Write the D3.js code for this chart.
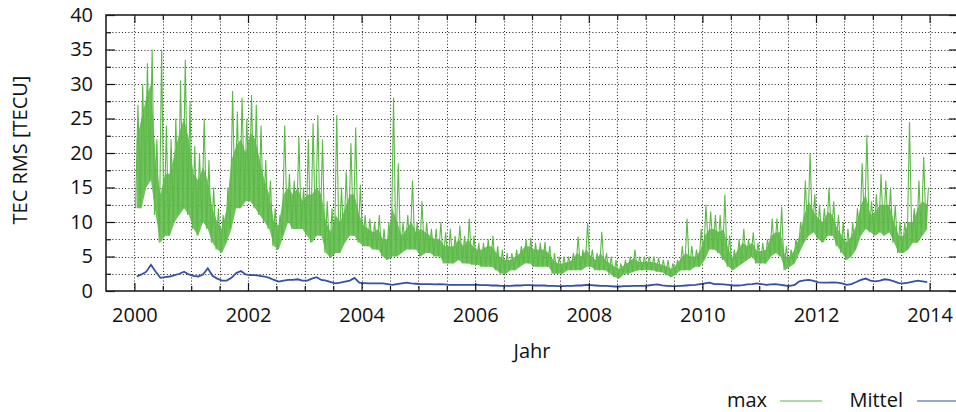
<!DOCTYPE html>
<html>
<head>
<meta charset="utf-8">
<script src="https://cdn.jsdelivr.net/npm/d3@7"></script>
<style>
	body {margin: 0; background: #fff;}
	svg {display: block;}
	text {font-family: 'Open Sans', sans-serif; fill: #111;}
</style>
</head>
<body>
<div id="chart"></div>
<script>
// monthly low / dense-band top / peak of the daily "max" TEC RMS, Jan 2000 .. Dec 2013
var maxLow = [
	12, 12, 15, 16, 11, 7, 8, 8, 10, 11, 12, 11,
	9, 8, 10, 9, 7, 6, 5.5, 7, 9, 12, 12, 13,
	13, 12, 11, 10, 9, 6.5, 6, 8, 10, 9, 9, 9,
	8, 7, 8, 8, 5.5, 4.8, 5.5, 5.5, 7, 8, 8, 7,
	6.5, 6.5, 6, 6, 5, 4.5, 5, 5, 5.5, 6, 6, 6,
	5, 5.5, 5.5, 5, 5, 4, 4, 4, 4.5, 4, 4, 3.8,
	3.8, 3.5, 3.5, 3.5, 3, 2.5, 2.5, 3, 3, 3.5, 4, 4,
	3.5, 3.5, 3.5, 3.5, 2.5, 2.5, 2.5, 3, 3, 3, 3, 3.5,
	3.5, 3, 3, 3, 2.5, 2, 1.8, 2.5, 2.5, 2.8, 3, 3,
	3, 3, 2.8, 2.7, 2.3, 2, 2.5, 3, 3, 3, 3.5, 3.5,
	4.5, 6, 6, 5.5, 4.5, 3.5, 3, 3.5, 4, 4.5, 5, 4,
	4, 4, 5, 5.5, 5, 3, 3.5, 4, 5.5, 7, 8, 8.5,
	7.5, 7, 8, 8, 6.5, 5.5, 4.5, 5, 6, 8, 9, 8.5,
	8, 8.5, 8, 8.5, 7, 5.5, 5.5, 6, 7, 7, 8, 9
];
var maxCore = [
	22, 25, 28, 30, 19, 14, 17, 17, 20, 23, 25, 22,
	17, 16, 18, 16, 12, 10, 9, 12, 19, 21, 22, 20,
	23, 22, 19, 16, 14, 10, 9.5, 14, 15, 14, 15, 13,
	14, 14, 15, 14, 10, 8.5, 11, 10, 12, 14, 14, 11,
	9.5, 9, 8.5, 9, 7.5, 7.5, 12, 10, 8, 9, 10, 8.5,
	9, 8.5, 8, 7.5, 7.5, 6.5, 6.5, 6.5, 7.5, 6.5, 7.5, 6.5,
	6, 6, 6.5, 6.5, 5.5, 4.8, 4.5, 4.5, 5, 5.5, 6.5, 6.5,
	6, 6, 6, 5.5, 4.5, 4, 4, 4.2, 4.5, 5.5, 5, 6,
	5, 4.5, 5.5, 4.5, 4, 3.5, 3.2, 3.8, 4.2, 4.8, 4.2, 4.2,
	4.2, 4.2, 4, 3.8, 3.6, 3.2, 3.8, 4.8, 5.5, 5, 5, 5.8,
	8, 9, 9, 8.5, 9, 6, 4.8, 6, 7, 6.5, 7, 5.8,
	5.8, 6, 8, 8.5, 8.5, 5, 5, 6, 8, 11, 13, 11.5,
	10.5, 10, 11.5, 11, 9, 8, 7, 8, 9.5, 12.5, 14, 11,
	11.5, 12.5, 12.5, 12.5, 10, 8, 8, 10, 10, 12, 13, 12.5
];
var maxHigh = [
	27, 30, 33, 35, 22, 35, 24, 22, 25, 30.5, 33.5, 27.5,
	21, 20, 25, 19, 15, 12, 11, 15, 29, 26, 28, 25,
	28.4, 27, 24, 19, 16, 12, 11, 24, 17, 16, 22.4, 15,
	22, 24.3, 25.5, 22, 13, 12, 25.5, 15, 17.3, 21.4, 23.7, 15.4,
	11, 10.5, 10, 11, 9, 10, 28, 18.5, 10, 11, 16, 10,
	13, 10, 9, 9, 10, 8.5, 9, 8, 9.5, 8, 10.5, 8,
	7, 7, 7.5, 8, 6.5, 6, 5.5, 5.5, 6, 6.5, 7.5, 7.7,
	7, 7, 7.1, 6.5, 5.5, 5, 5, 5, 5.5, 7.9, 6, 9.9,
	6, 5.5, 8.6, 5.5, 5, 4.5, 4, 4.5, 5, 6, 5, 5,
	5, 5, 4.8, 4.5, 4.5, 4, 4.5, 6.5, 10.5, 6.5, 6, 9,
	12.5, 11.5, 11, 11, 14, 8, 6, 7.5, 9, 7.5, 8.5, 7,
	7, 7.5, 10.5, 10.5, 12.2, 6.5, 6, 7.5, 10, 16, 20, 14,
	12.5, 12, 15, 13, 11, 10, 9, 10, 12, 18.5, 22.6, 13,
	14, 17, 16, 15, 12.5, 10, 10, 24.5, 12, 16, 19.4, 15
];
// monthly level of "Mittel"
var mittel = [
	2.1, 2.4, 2.8, 3.8, 2.8, 1.9, 2.0, 2.1, 2.3, 2.5, 2.8, 2.4,
	2.2, 2.1, 2.4, 3.3, 2.2, 1.8, 1.5, 1.5, 1.9, 2.6, 2.9, 2.4,
	2.3, 2.3, 2.2, 2.1, 1.9, 1.6, 1.35, 1.5, 1.6, 1.6, 1.7, 1.5,
	1.5, 1.8, 2.0, 1.6, 1.5, 1.3, 1.1, 1.2, 1.35, 1.5, 1.9, 1.2,
	1.15, 1.1, 1.1, 1.1, 1.1, 1.0, 0.9, 1.0, 1.1, 1.2, 1.1, 1.05,
	1.0, 1.0, 1.0, 0.95, 1.0, 0.95, 0.9, 0.9, 0.9, 0.9, 0.9, 0.9,
	0.9, 0.85, 0.85, 0.8, 0.8, 0.75, 0.75, 0.75, 0.8, 0.8, 0.85, 0.85,
	0.8, 0.8, 0.8, 0.75, 0.75, 0.7, 0.7, 0.75, 0.75, 0.8, 0.8, 0.9,
	0.85, 0.8, 0.75, 0.75, 0.7, 0.65, 0.65, 0.7, 0.7, 0.75, 0.75, 0.75,
	0.8, 0.9, 0.95, 0.8, 0.75, 0.7, 0.7, 0.75, 0.8, 0.85, 0.9, 1.0,
	1.1, 1.2, 1.0, 1.0, 0.95, 0.9, 0.8, 0.8, 0.85, 0.95, 1.0, 1.1,
	1.0, 0.9, 0.95, 1.0, 0.9, 0.8, 0.75, 0.9, 1.4, 1.55, 1.6, 1.45,
	1.25, 1.2, 1.2, 1.25, 1.2, 1.1, 0.9, 1.0, 1.3, 1.6, 1.8, 1.5,
	1.4, 1.5, 1.7, 1.6, 1.4, 1.15, 1.1, 1.2, 1.35, 1.5, 1.4, 1.3
];
var startYear = 2000;
var xTickYears = [2000, 2002, 2004, 2006, 2008, 2010, 2012, 2014];
var xMinorYears = [2000, 2000.5, 2001, 2001.5, 2002, 2002.5, 2003, 2003.5, 2004, 2004.5, 2005, 2005.5, 2006, 2006.5, 2007, 2007.5,
	2008, 2008.5, 2009, 2009.5, 2010, 2010.5, 2011, 2011.5, 2012, 2012.5, 2013, 2013.5, 2014];
var yTickValues = [0, 5, 10, 15, 20, 25, 30, 35, 40];
var yMinorValues = [2.5, 7.5, 12.5, 17.5, 22.5, 27.5, 32.5, 37.5];
var seriesNames = ['max', 'Mittel'];
var seriesColors = ['#5cb947', '#3551a3'];

function TecPlot(id, conf) {
	this.id = id;
	this.config = conf;

	this.init()
		.drawGrid()
		.drawSeries()
		.drawAxes()
		.drawLabels();
}

TecPlot.prototype = {
	init: function () {
		var conf = this.config;

		this.svg = d3.select('#'+this.id).append('svg')
			.attr('width', conf.width).attr('height', conf.height);

		this.x_scale = d3.scaleLinear().domain([1999.5, 2014.5]).range([conf.left, conf.right]);
		this.y_scale = d3.scaleLinear().domain([0, 40]).range([conf.bottom, conf.top]);

		this.svg.append('clipPath').attr('id', 'plotclip').append('rect')
			.attr('x', conf.left).attr('y', conf.top)
			.attr('width', conf.right-conf.left).attr('height', conf.bottom-conf.top);

		return this;
	},
	drawGrid: function () {
		var self = this,
			conf = self.config,
			grid = self.svg.append('g').attr('class', 'grid')
				.attr('stroke', '#222').attr('stroke-width', 1).attr('stroke-dasharray', '1,2.2');

		grid.selectAll('line.v').data(xMinorYears).enter().append('line')
			.attr('x1', function (d) {return Math.round(self.x_scale(d))+0.5;})
			.attr('x2', function (d) {return Math.round(self.x_scale(d))+0.5;})
			.attr('y1', conf.top).attr('y2', conf.bottom);

		grid.selectAll('line.h').data(yMinorValues.concat(yTickValues.slice(1, -1))).enter().append('line')
			.attr('y1', function (d) {return Math.round(self.y_scale(d))+0.5;})
			.attr('y2', function (d) {return Math.round(self.y_scale(d))+0.5;})
			.attr('x1', conf.left).attr('x2', conf.right);

		return this;
	},
	drawSeries: function () {
		var self = this,
			x = self.x_scale,
			y = self.y_scale,
			g = self.svg.append('g').attr('clip-path', 'url(#plotclip)'),
			band = [],
			spikes = [],
			meanPts = [];

		maxLow.forEach(function (lo, i) {
			band.push({t: startYear + (i+0.5)/12, lo: lo, hi: maxCore[i]});
			// low, then peak: the trace reaches each month's extremes
			spikes.push([startYear + (i+0.25)/12, lo]);
			spikes.push([startYear + (i+0.75)/12, maxHigh[i]]);
		});
		mittel.forEach(function (v, i) {
			meanPts.push([startYear + (i+0.5)/12, v]);
		});

		// dense part of the daily trace
		g.append('path').datum(band)
			.attr('d', d3.area()
				.x(function (d) {return x(d.t);})
				.y0(function (d) {return y(d.lo);})
				.y1(function (d) {return y(d.hi);}))
			.attr('fill', seriesColors[0]).attr('fill-opacity', 0.88);

		var line = d3.line()
			.x(function (d) {return x(d[0]);})
			.y(function (d) {return y(d[1]);});

		g.append('path').datum(spikes)
			.attr('d', line).attr('fill', 'none')
			.attr('stroke', seriesColors[0]).attr('stroke-width', 1.1)
			.attr('stroke-linejoin', 'miter').attr('stroke-miterlimit', 2);

		g.append('path').datum(meanPts)
			.attr('d', line).attr('fill', 'none')
			.attr('stroke', seriesColors[1]).attr('stroke-width', 1.8);

		return this;
	},
	drawAxes: function () {
		var conf = this.config,
			svg = this.svg,
			x = this.x_scale,
			y = this.y_scale,
			majorX = xTickYears,
			minorX = xMinorYears.filter(function (d) {return majorX.indexOf(d) < 0;});

		function style(g) {
			g.attr('font-size', 20).attr('font-family', "'Open Sans', sans-serif");
			g.select('.domain').remove();
			g.selectAll('line').attr('stroke', '#111').attr('stroke-width', 1.2);
			g.selectAll('text').attr('fill', '#111');
		}

		svg.append('g').attr('transform', 'translate(0,'+conf.bottom+')')
			.call(d3.axisBottom(x).tickValues(majorX).tickSize(-8).tickPadding(17).tickFormat(d3.format('d')))
			.call(style);
		svg.append('g').attr('transform', 'translate(0,'+conf.bottom+')')
			.call(d3.axisBottom(x).tickValues(minorX).tickSize(-5).tickFormat(''))
			.call(style);
		svg.append('g').attr('transform', 'translate(0,'+conf.top+')')
			.call(d3.axisTop(x).tickValues(majorX).tickSize(-8).tickFormat(''))
			.call(style);
		svg.append('g').attr('transform', 'translate(0,'+conf.top+')')
			.call(d3.axisTop(x).tickValues(minorX).tickSize(-5).tickFormat(''))
			.call(style);

		svg.append('g').attr('transform', 'translate('+conf.left+',0)')
			.call(d3.axisLeft(y).tickValues(yTickValues).tickSize(-9).tickPadding(13))
			.call(style);
		svg.append('g').attr('transform', 'translate('+conf.left+',0)')
			.call(d3.axisLeft(y).tickValues(yMinorValues).tickSize(-5).tickFormat(''))
			.call(style);
		svg.append('g').attr('transform', 'translate('+conf.right+',0)')
			.call(d3.axisRight(y).tickValues(yTickValues).tickSize(-9).tickFormat(''))
			.call(style);
		svg.append('g').attr('transform', 'translate('+conf.right+',0)')
			.call(d3.axisRight(y).tickValues(yMinorValues).tickSize(-5).tickFormat(''))
			.call(style);

		// frame
		svg.append('rect')
			.attr('x', conf.left).attr('y', conf.top)
			.attr('width', conf.right-conf.left).attr('height', conf.bottom-conf.top)
			.attr('fill', 'none').attr('stroke', '#222').attr('stroke-width', 1.6);

		return this;
	},
	drawLabels: function () {
		var svg = this.svg,
			conf = this.config;

		svg.append('text').text('Jahr')
			.attr('x', (conf.left+conf.right)/2).attr('y', 358)
			.attr('text-anchor', 'middle').attr('font-size', 20);

		svg.append('text').text('TEC RMS [TECU]')
			.attr('transform', 'translate(27,150) rotate(-90)')
			.attr('text-anchor', 'middle').attr('font-size', 20);

		// legend, bottom right
		var legend = svg.append('g').attr('class', 'legend'),
			items = [{x: 767, x1: 780, x2: 822}, {x: 903, x1: 917, x2: 962}];

		items.forEach(function (it, i) {
			legend.append('text').text(seriesNames[i])
				.attr('x', it.x).attr('y', 406.5)
				.attr('text-anchor', 'end').attr('font-size', 20);
			legend.append('line')
				.attr('x1', it.x1).attr('x2', it.x2).attr('y1', 401).attr('y2', 401)
				.attr('stroke', seriesColors[i]).attr('stroke-width', 1.2);
		});

		return this;
	}
};

new TecPlot('chart', {width: 956, height: 412, left: 106, right: 958, top: 15, bottom: 291});
</script>
</body>
</html>
